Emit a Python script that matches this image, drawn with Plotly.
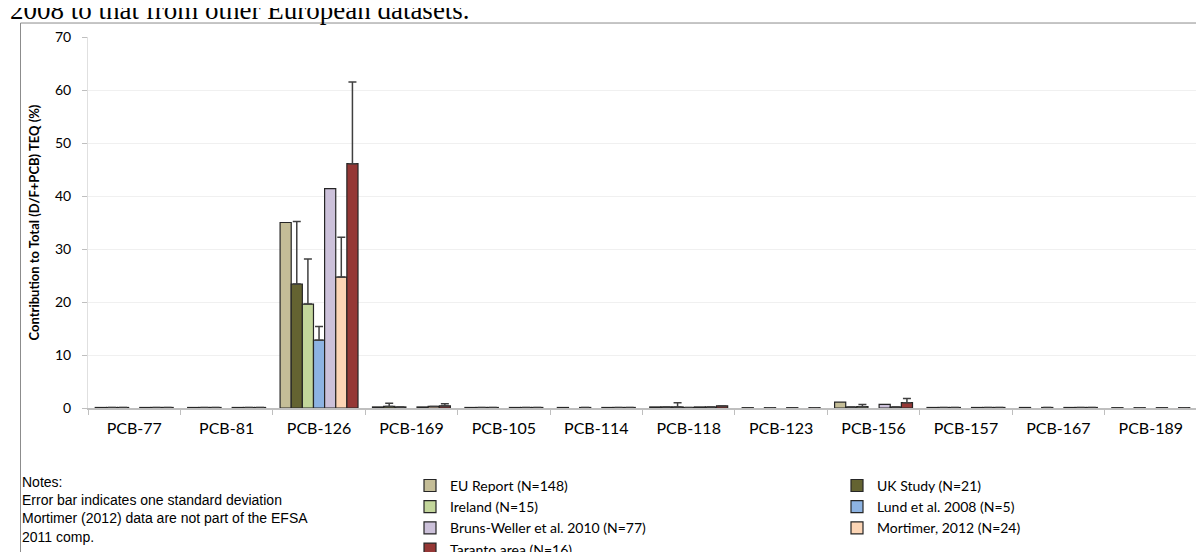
import plotly.graph_objects as go

categories = ["PCB-77", "PCB-81", "PCB-126", "PCB-169", "PCB-105", "PCB-114",
              "PCB-118", "PCB-123", "PCB-156", "PCB-157", "PCB-167", "PCB-189"]

series_names = ["EU Report (N=148)", "UK Study (N=21)", "Ireland (N=15)",
                "Lund et al. 2008 (N=5)", "Bruns-Weller et al. 2010 (N=77)",
                "Mortimer, 2012 (N=24)", "Taranto area (N=16)"]

eu_report = [0.1, 0.1, 35.0, 0.2, 0.1, 0.1, 0.2, 0.06, 1.1, 0.1, 0.1, 0.06]
uk_study = [0.1, 0.1, 23.4, 0.3, 0.1, None, 0.2, None, 0.2, 0.1, None, None]
ireland = [0.1, 0.1, 19.6, 0.2, 0.1, 0.1, 0.2, 0.06, 0.25, 0.1, 0.1, 0.06]
lund = [None, None, 12.8, None, None, None, 0.1, None, None, None, None, None]
bruns_weller = [0.1, 0.1, 41.4, 0.2, 0.1, 0.1, 0.2, 0.06, 0.7, 0.1, 0.1, 0.06]
mortimer = [0.1, 0.1, 24.7, 0.3, 0.1, 0.1, 0.2, None, 0.2, 0.1, 0.1, None]
taranto = [0.1, 0.1, 46.1, 0.4, 0.1, 0.1, 0.4, 0.06, 1.0, 0.1, 0.1, 0.06]

eu_report_sd = [0] * 12
uk_study_sd = [0, 0, 11.8, 0.6, 0, 0, 0, 0, 0, 0, 0, 0]
ireland_sd = [0, 0, 8.5, 0, 0, 0, 0.8, 0, 0.4, 0, 0, 0]
lund_sd = [0, 0, 2.6, 0, 0, 0, 0, 0, 0, 0, 0, 0]
bruns_weller_sd = [0] * 12
mortimer_sd = [0, 0, 7.5, 0, 0, 0, 0, 0, 0, 0, 0, 0]
taranto_sd = [0, 0, 15.4, 0.4, 0, 0, 0, 0, 0.8, 0, 0, 0]

y_ticks = [0, 10, 20, 30, 40, 50, 60, 70]

notes_lines = ["Notes:", "Error bar indicates one standard deviation",
               "Mortimer (2012) data are not part of the EFSA", "2011 comp."]
caption = "2008 to that from other European datasets."

values = [eu_report, uk_study, ireland, lund, bruns_weller, mortimer, taranto]
sds = [eu_report_sd, uk_study_sd, ireland_sd, lund_sd, bruns_weller_sd, mortimer_sd, taranto_sd]
colors = ["#C4BD97", "#646331", "#C3D69B", "#8DB3E2", "#CCC1DA", "#FCD5B5", "#953735"]

fig = go.Figure()
for name, v, sd, c in zip(series_names, values, sds, colors):
    has_err = any(s > 0 for s in sd)
    fig.add_trace(go.Bar(
        x=categories, y=v, name=name,
        marker=dict(color=c, line=dict(color="#262626", width=1.2)),
        error_y=dict(type="data", symmetric=False, array=sd, arrayminus=[0] * len(sd),
                     color="#404040", thickness=1.5, width=4, visible=has_err),
    ))

W, H = 1204, 552
ml, mr, mt, mb = 80, 15, 28.5, 152
pw, ph = W - ml - mr, H - mt - mb

def px_x(x):
    return (x - ml) / pw

def px_y(y):
    return (H - mb - y) / ph

fig.update_layout(
    width=W, height=H,
    margin=dict(l=ml, r=mr, t=mt, b=mb, autoexpand=False),
    paper_bgcolor="white", plot_bgcolor="white",
    barmode="group", bargap=0.157, bargroupgap=0,
    font=dict(family="Lato", color="#000000"),
    showlegend=True,
    legend=dict(orientation="h", x=px_x(402), xanchor="left",
                y=px_y(462), yanchor="top",
                entrywidth=382, entrywidthmode="pixels",
                font=dict(family="Lato", size=14, color="#000000"),
                itemclick=False, tracegroupgap=0, traceorder="normal"),
    xaxis=dict(type="category", tickson="boundaries", ticks="outside", ticklen=5,
               tickcolor="#BFBFBF", showline=True, linecolor="#BFBFBF", linewidth=1.5,
               showgrid=False, ticklabelstandoff=5,
               tickfont=dict(family="Lato", size=16, color="#000000")),
    yaxis=dict(range=[0, 70], tickvals=y_ticks, ticks="outside", ticklen=5,
               tickcolor="#BFBFBF", showline=True, linecolor="#E0E0E0",
               showgrid=True, gridcolor="#F0F0F0", gridwidth=1, zeroline=False,
               ticklabelstandoff=8,
               tickfont=dict(family="Lato", size=14, color="#000000"),
               title=dict(text="<b>Contribution to Total (D/F+PCB) TEQ (%)</b>",
                          font=dict(family="Lato", size=13, color="#000000"), standoff=12)),
)

fig.add_annotation(text="<br>".join(notes_lines), xref="paper", yref="paper",
                   x=px_x(12), y=px_y(464), xanchor="left", yanchor="top", align="left",
                   showarrow=False,
                   font=dict(family="Liberation Sans", size=14, color="#000000"))

fig.add_annotation(text=caption, xref="paper", yref="paper",
                   x=px_x(0), y=px_y(18), xanchor="left", yanchor="bottom", align="left",
                   showarrow=False,
                   font=dict(family="Liberation Serif", size=27, color="#000000"))

fig.add_shape(type="path", xref="paper", yref="paper",
              path=f"M {px_x(12.5)} {px_y(H + 5)} L {px_x(12.5)} {px_y(14.5)} L {px_x(1201.5)} {px_y(14.5)} L {px_x(1201.5)} {px_y(H + 5)}",
              line=dict(color="#8C8C8C", width=1))

fig.write_html("out.html")
